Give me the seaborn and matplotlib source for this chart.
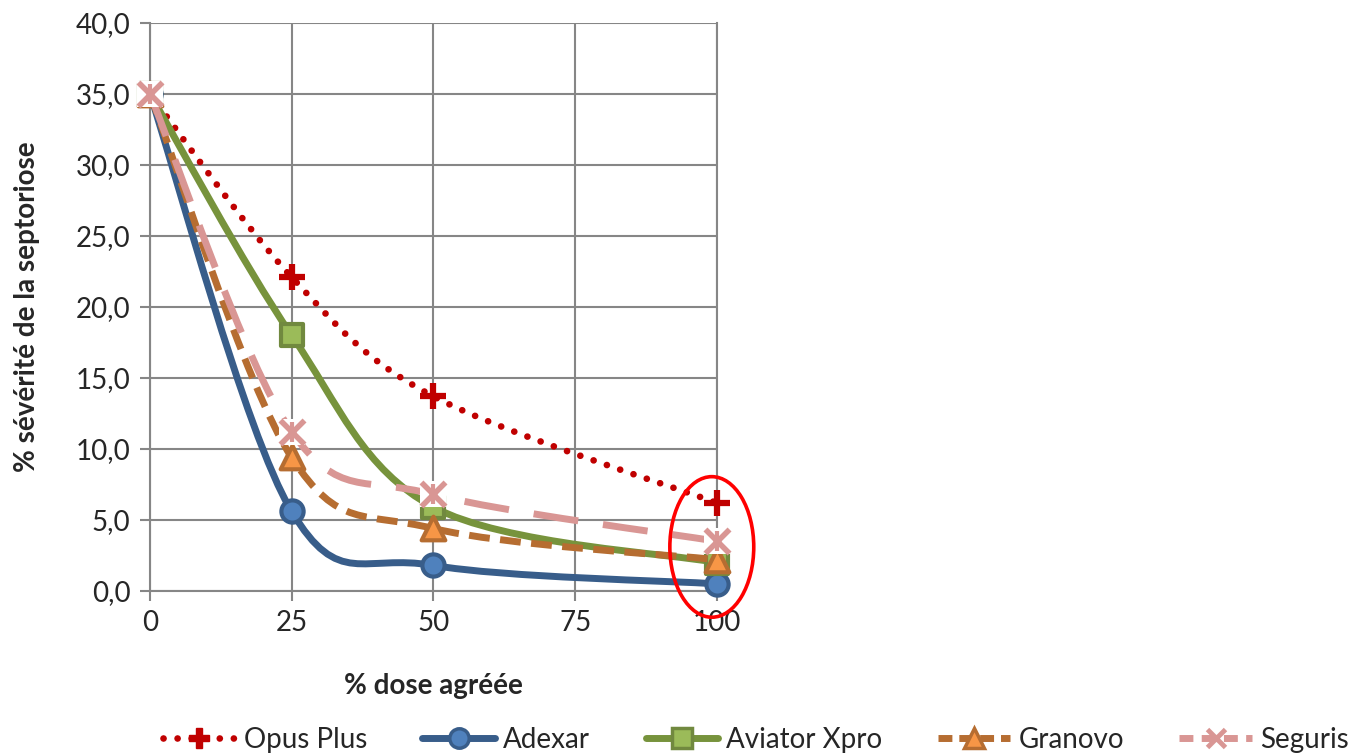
import matplotlib
matplotlib.use("Agg")
import matplotlib.pyplot as plt
import seaborn as sns
import numpy as np
import pandas as pd
from matplotlib.path import Path
from matplotlib.patches import PathPatch, Ellipse
from matplotlib.lines import Line2D
from matplotlib.ticker import FuncFormatter, MultipleLocator

# données
doses = [0, 25, 50, 100]
opus_plus = [35.0, 22.1, 13.7, 6.2]
adexar = [35.0, 5.6, 1.8, 0.5]
aviator_xpro = [35.0, 18.0, 5.9, 2.0]
granovo = [35.0, 9.4, 4.4, 2.2]
seguris = [35.0, 11.2, 6.8, 3.5]
series_names = ["Opus Plus", "Adexar", "Aviator Xpro", "Granovo", "Seguris"]
series_values = [opus_plus, adexar, aviator_xpro, granovo, seguris]

sns.set_theme(style="white")
plt.rcParams['font.family'] = ['Lato', 'DejaVu Sans']

# style de chaque série
styles = {
    "Opus Plus": dict(color="#C00000", lw=4.8, dash=(0, (0.01, 2.1)), cap="round",
                      marker="P", mfc="#C00000", mec="#C00000", ms=0),
    "Adexar": dict(color="#385D8A", lw=5, dash="solid", cap="butt",
                   marker="o", mfc="#4F81BD", mec="#385D8A", ms=16),
    "Aviator Xpro": dict(color="#77933C", lw=5, dash="solid", cap="butt",
                         marker="s", mfc="#9BBB59", mec="#71893F", ms=16),
    "Granovo": dict(color="#B66D31", lw=5, dash=(0, (3.0, 1.5)), cap="butt",
                    marker="^", mfc="#F79646", mec="#B66D31", ms=17),
    "Seguris": dict(color="#D99694", lw=5, dash=(0, (6.5, 3.6)), cap="butt",
                    marker="x", mfc="#D99694", mec="#D99694", ms=15),
}


def smooth_path(x, y, k=1/6):
    # courbe lissée type Excel : segments de Bézier cubiques
    pts = np.column_stack([x, y]).astype(float)
    n = len(pts)
    verts = [pts[0]]
    codes = [Path.MOVETO]
    for i in range(n - 1):
        p0 = pts[i - 1] if i > 0 else pts[i]
        p1 = pts[i]
        p2 = pts[i + 1]
        p3 = pts[i + 2] if i + 2 < n else pts[i + 1]
        c1 = p1 + (p2 - p0) * k
        c2 = p2 - (p3 - p1) * k
        verts += [c1, c2, p2]
        codes += [Path.CURVE4] * 3
    return Path(verts, codes)


fig = plt.figure(figsize=(13.57, 7.56), dpi=100)
ax = fig.add_axes([0.1105, 0.2183, 0.4178, 0.7513])

df = pd.DataFrame({"dose": np.tile(doses, len(series_names)),
                   "valeur": np.concatenate(series_values),
                   "serie": np.repeat(series_names, len(doses))})

for z, name in enumerate(series_names):
    st = styles[name]
    sub = df[df["serie"] == name]
    patch = PathPatch(smooth_path(sub["dose"], sub["valeur"]), fill=False,
                      edgecolor=st["color"], lw=st["lw"], linestyle=st["dash"],
                      capstyle=st["cap"], joinstyle="round", zorder=3 + 2 * z)
    ax.add_patch(patch)
    kw = dict(data=sub, x="dose", y="valeur", ax=ax, legend=False,
              zorder=4 + 2 * z, clip_on=False)
    if name == "Opus Plus":
        sns.scatterplot(marker="+", s=330, color="#C00000", linewidth=4.5, **kw)
    elif name == "Seguris":
        sns.scatterplot(marker="s", s=330, color="white", linewidth=0, **kw)
        sns.scatterplot(marker="x", s=300, color=st["color"], linewidth=4, **kw)
        sns.scatterplot(marker="|", s=220, color=st["color"], linewidth=3, **kw)
    else:
        sns.scatterplot(marker=st["marker"], s=st["ms"] ** 2, color=st["mfc"],
                        edgecolor=st["mec"], linewidth=3, **kw)

# ellipse rouge autour de la dose 100 %
ax.add_patch(Ellipse((99.1, 3.1), 14.8, 9.9, fill=False, edgecolor="#FF0000",
                     lw=2.6, clip_on=False, zorder=20))

ax.set_xlim(0, 100)
ax.set_ylim(0, 40)
ax.xaxis.set_major_locator(MultipleLocator(25))
ax.yaxis.set_major_locator(MultipleLocator(5))
ax.yaxis.set_major_formatter(FuncFormatter(lambda v, p: f"{v:.1f}".replace(".", ",")))
ax.grid(True, color="#868686", lw=1.5)
for s in ax.spines.values():
    s.set_color("#868686")
    s.set_linewidth(1.5)
ax.spines["top"].set_visible(False)
ax.tick_params(axis="both", which="major", length=7, width=1.5, color="#868686",
               labelsize=20, pad=7, direction="out", bottom=True, left=True)
ax.set_xlabel("% dose agréée", fontsize=20, fontweight="bold", labelpad=26)
ax.set_ylabel("% sévérité de la septoriose", fontsize=20, fontweight="bold", labelpad=26)

# légende
handles = []
for name in series_names:
    st = styles[name]
    if name == "Opus Plus":
        h = Line2D([], [], color=st["color"], lw=st["lw"], linestyle=st["dash"],
                   dash_capstyle="round", marker="P", ms=14, mfc="#C00000", mec="#C00000")
    elif name == "Seguris":
        h = Line2D([], [], color=st["color"], lw=st["lw"], linestyle=(0, (2.0, 1.2)),
                   marker="x", ms=13, mew=3.5, mec=st["color"])
    else:
        ls = st["dash"] if name != "Granovo" else (0, (2.0, 1.0))
        h = Line2D([], [], color=st["color"], lw=st["lw"], linestyle=ls,
                   marker=st["marker"], ms=14, mfc=st["mfc"], mec=st["mec"], mew=2.5)
    handles.append(h)
fig.legend(handles, series_names, loc="center", bbox_to_anchor=(0.557, 0.021),
           ncol=5, frameon=False, fontsize=20, handlelength=2.6, handletextpad=0.3,
           columnspacing=2.0)

fig.savefig("out.png", dpi=100)
